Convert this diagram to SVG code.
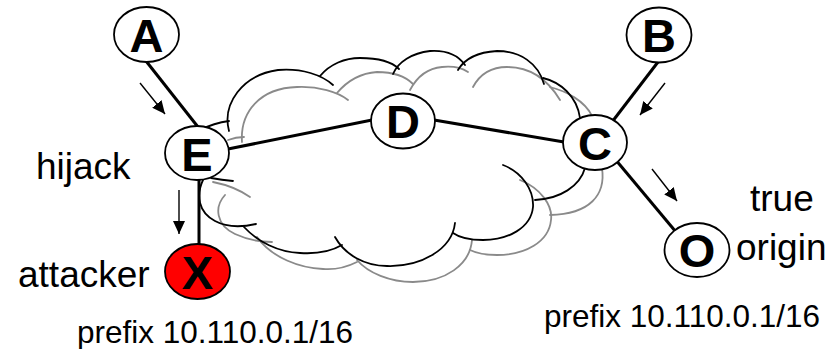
<svg xmlns="http://www.w3.org/2000/svg" width="835" height="349" viewBox="0 0 835 349">
  <style>
    .cloud-k { fill: none; stroke: #000; stroke-width: 1.8; stroke-linecap: round; }
    .cloud-g { fill: none; stroke: #8a8a8a; stroke-width: 1.8; stroke-linecap: round; }
    .link { stroke: #000; stroke-width: 3; stroke-linecap: butt; fill: none; }
    .flow { stroke: #000; stroke-width: 1.4; fill: none; marker-end: url(#head); }
    .node { fill: #fff; stroke: #000; stroke-width: 1.8; }
    .node.bad { fill: #ff0000; }
    .letter { font-family: "Liberation Sans", Arial, sans-serif; font-weight: bold; font-size: 47px; text-anchor: middle; fill: #000; }
    .label { font-family: "Liberation Sans", Arial, sans-serif; font-size: 37px; fill: #000; }
    .prefix { font-family: "Liberation Sans", Arial, sans-serif; font-size: 31.5px; fill: #000; }
  </style>
  <defs>
    <marker id="head" markerUnits="userSpaceOnUse" markerWidth="14" markerHeight="12" refX="13" refY="6" orient="auto">
      <path d="M0,0 L13,6 L0,12 Z" fill="#000"/>
    </marker>
  </defs>

  <!-- shadow outline of the network cloud -->
  <g id="cloud-shadow">
    <path class="cloud-g" d="M228,140 Q236,137 244,137"/>
    <path class="cloud-g" d="M242,142 C240,112 260,88 297,87 C318,86 338,92 348,100"/>
    <path class="cloud-g" d="M337,93 C348,80 362,73 377,72 C393,72 406,77 413,84"/>
    <path class="cloud-g" d="M410,90 C418,75 430,68 442,67 C452,66 462,68 468,72"/>
    <path class="cloud-g" d="M473,87 C480,74 492,67 507,67 C530,67 548,80 560,100"/>
    <path class="cloud-g" d="M550,87 C566,91 585,101 592,116"/>
    <path class="cloud-g" d="M602,168 C606,195 590,214 550,215"/>
    <path class="cloud-g" d="M520,180 C540,188 553,205 551,220 C549,242 525,255 497,255 C485,255 476,253 470,250"/>
    <path class="cloud-g" d="M472,240 C470,265 445,282 413,282 C390,282 368,273 357,260"/>
    <path class="cloud-g" d="M357,262 C345,268 335,270 323,269 C300,268 272,258 257,237"/>
    <path class="cloud-g" d="M225,195 C214,207 216,225 235,234 C248,240 260,242 272,242"/>
    <path class="cloud-g" d="M213,182 C228,185 240,190 250,197"/>
  </g>

  <!-- main outline of the network cloud -->
  <g id="cloud">
    <path class="cloud-k" d="M200,130 Q214,123 229,121"/>
    <path class="cloud-k" d="M229,131 C222,104 242,75 278,70 C302,68 322,75 333,85"/>
    <path class="cloud-k" d="M320,76 C330,64 345,58 360,58 C378,58 392,62 399,69"/>
    <path class="cloud-k" d="M393,74 C398,62 412,53 430,51 C446,50 458,55 465,65"/>
    <path class="cloud-k" d="M458,70 C465,58 480,52 497,51 C520,51 538,63 544,84"/>
    <path class="cloud-k" d="M543,78 C560,82 577,96 580,118"/>
    <path class="cloud-k" d="M585,168 C580,186 560,199 535,200"/>
    <path class="cloud-k" d="M503,165 C522,172 534,190 533,207 C531,228 508,240 483,240 C470,240 460,238 453,233"/>
    <path class="cloud-k" d="M455,223 C452,250 420,267 387,266 C365,266 345,255 335,237"/>
    <path class="cloud-k" d="M342,245 C330,252 315,254 300,253 C278,252 258,242 244,227"/>
    <path class="cloud-k" d="M203,180 C196,195 198,212 215,221 C228,228 243,227 256,224"/>
    <path class="cloud-k" d="M211,178 Q222,180 233,181"/>
  </g>

  <!-- links between routers, and announcement directions -->
  <g id="links">
    <line class="link" x1="146" y1="61" x2="198" y2="127"/>
    <line class="link" x1="228" y1="149" x2="372" y2="120"/>
    <line class="link" x1="434" y1="120" x2="564" y2="142"/>
    <line class="link" x1="658" y1="62" x2="612" y2="122"/>
    <line class="link" x1="615" y1="159" x2="676" y2="232"/>
    <line class="link" x1="199" y1="179" x2="199" y2="245"/>
    <line class="flow" x1="140" y1="83" x2="165" y2="114"/>
    <line class="flow" x1="179" y1="190" x2="179" y2="234"/>
    <line class="flow" x1="665" y1="83" x2="640" y2="115"/>
    <line class="flow" x1="652" y1="169" x2="677" y2="201"/>
  </g>

  <g id="node-A">
    <ellipse class="node" cx="146.5" cy="34.5" rx="32.5" ry="27.5"/>
    <text class="letter" x="146.5" y="51.5">A</text>
  </g>
  <g id="node-B">
    <ellipse class="node" cx="659" cy="35" rx="32.5" ry="27.5"/>
    <text class="letter" x="659" y="52">B</text>
  </g>
  <g id="node-E">
    <ellipse class="node" cx="197" cy="153" rx="32" ry="27"/>
    <text class="letter" x="197" y="170.5">E</text>
  </g>
  <g id="node-D">
    <ellipse class="node" cx="403" cy="121" rx="32" ry="27.5"/>
    <text class="letter" x="403" y="138">D</text>
  </g>
  <g id="node-C">
    <ellipse class="node" cx="595" cy="142.5" rx="32" ry="27.5"/>
    <text class="letter" x="595" y="159.5">C</text>
  </g>
  <g id="node-X">
    <ellipse class="node bad" cx="197.5" cy="271.5" rx="32.5" ry="27.5"/>
    <text class="letter" x="197.5" y="288.5">X</text>
  </g>
  <g id="node-O">
    <ellipse class="node" cx="697" cy="250" rx="32.5" ry="27"/>
    <text class="letter" x="697" y="266.5">O</text>
  </g>

  <g id="labels">
    <text class="label" x="36" y="179">hijack</text>
    <text class="label" x="18" y="287">attacker</text>
    <text class="label" x="750" y="210.5">true</text>
    <text class="label" x="736" y="260">origin</text>
    <text class="prefix" x="77" y="343">prefix 10.110.0.1/16</text>
    <text class="prefix" x="544" y="327">prefix 10.110.0.1/16</text>
  </g>
</svg>
